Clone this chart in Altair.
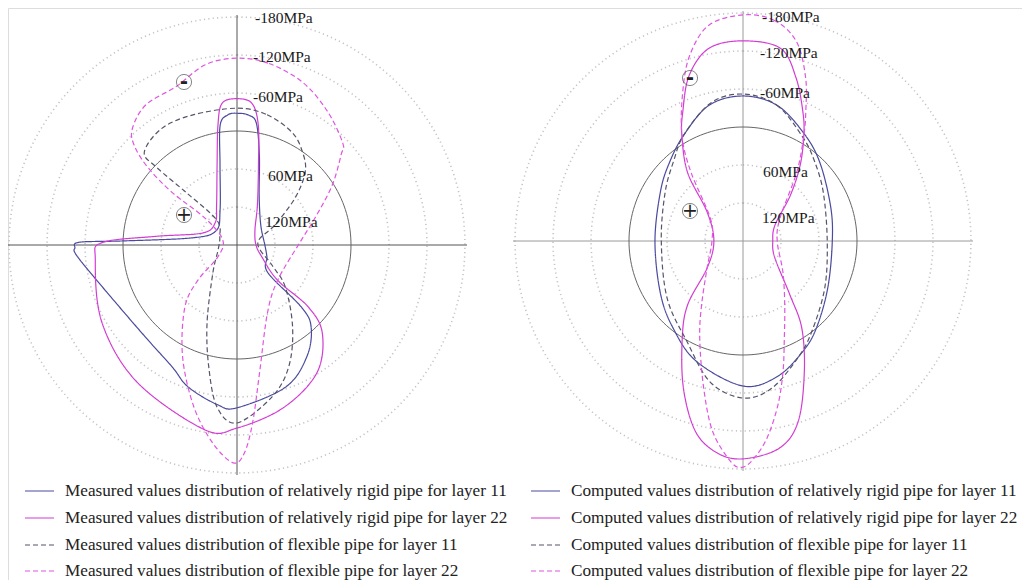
import math
import altair as alt
import pandas as pd

# ---------------- data (angle in degrees clockwise from top, stress in MPa) ----------------
# Left panel: measured values
MEAS_RIGID_11_ANG = [0, 5, 9, 14, 24, 50, 90, 112, 132, 134, 138, 148, 161, 180, 187, 199, 208, 225, 251, 266, 269, 271, 272, 279, 304, 334, 348, 352, 356]
MEAS_RIGID_11_MPA = [-28, -26, -15, 34, 94, 131, 136, 129, 114, 38, 5, -28, -57, -77, -74, -57, -38, -25, -40, -73, -76, -69, -2, 108, 140, 119, 51, -11, -26]

MEAS_RIGID_22_ANG = [0, 6, 10, 15, 27, 50, 90, 116, 131, 131, 136, 148, 164, 180, 190, 216, 240, 264, 271, 276, 289, 315, 333, 346, 351, 354]
MEAS_RIGID_22_MPA = [-51, -45, -13, 49, 109, 143, 150, 136, 95, 31, -14, -58, -87, -109, -116, -88, -66, -45, -33, 50, 122, 131, 109, 50, -12, -45]

MEAS_FLEX_11_ANG = [0, 13, 26, 35, 43, 51, 62, 85, 120, 131, 146, 157, 167, 180, 187, 193, 201, 221, 255, 295, 321, 316, 314, 315, 327, 341]
MEAS_FLEX_11_MPA = [-36, -31, -18, 0, 22, 62, 112, 147, 116, 79, 23, -29, -66, -101, -78, -18, 48, 122, 149, 150, 129, 66, 4, -27, -39, -37]

MEAS_FLEX_22_ANG = [0, 10, 22, 34, 46, 49, 58, 71, 88, 131, 156, 170, 175, 178, 181, 187, 195, 206, 220, 228, 238, 290, 310, 309, 311, 314, 318, 327, 339, 350]
MEAS_FLEX_22_MPA = [-115, -111, -97, -75, -52, -38, 3, 50, 81, 95, 62, -25, -102, -149, -164, -135, -84, -16, 52, 97, 144, 156, 114, 48, -6, -45, -67, -84, -88, -109]

# Right panel: computed values
COMP_RIGID_11_ANG = [0, 14, 29, 44, 68, 90, 119, 140, 152, 166, 180, 201, 219, 238, 270, 301, 317, 331, 346]
COMP_RIGID_11_MPA = [-49, -41, -16, 6, 31, 39, 27, 0, -19, -41, -49, -24, 4, 26, 41, 28, 10, -12, -41]

COMP_RIGID_22_ANG = [0, 11, 18, 25, 30, 37, 46, 63, 90, 118, 139, 146, 155, 163, 170, 180, 187, 194, 202, 212, 221, 233, 270, 309, 321, 330, 335, 342, 350]
COMP_RIGID_22_MPA = [-136, -130, -91, -44, -12, 30, 76, 123, 133, 123, 67, 14, -49, -118, -152, -164, -157, -130, -71, -1, 47, 109, 134, 107, 41, -13, -45, -95, -129]

COMP_FLEX_11_ANG = [0, 14, 30, 42, 59, 90, 120, 143, 155, 169, 180, 193, 209, 233, 270, 302, 319, 331, 347]
COMP_FLEX_11_MPA = [-52, -41, -9, 11, 32, 47, 31, 0, -24, -57, -68, -49, -2, 30, 51, 35, 13, -12, -44]

COMP_FLEX_22_ANG = [0, 8, 15, 21, 26, 30, 38, 58, 90, 128, 147, 157, 163, 168, 173, 177, 180, 183, 189, 195, 204, 213, 233, 270, 305, 323, 330, 338, 344, 351]
COMP_FLEX_22_MPA = [-177, -172, -146, -96, -46, -12, 42, 111, 126, 100, 59, 13, -36, -85, -133, -163, -177, -170, -125, -60, 12, 60, 109, 131, 117, 43, -13, -74, -125, -165]

RING_MPA = [120, 60, -60, -120, -180]
ZERO_MPA = [0]
RING_LABELS = ["-180MPa", "-120MPa", "-60MPa", "60MPa", "120MPa"]
RING_LABEL_MPA = [-180, -120, -60, 60, 120]

SERIES_11_RIGID = "relatively rigid pipe for layer 11"
SERIES_22_RIGID = "relatively rigid pipe for layer 22"
SERIES_11_FLEX = "flexible pipe for layer 11"
SERIES_22_FLEX = "flexible pipe for layer 22"
SERIES = [SERIES_11_RIGID, SERIES_22_RIGID, SERIES_11_FLEX, SERIES_22_FLEX]
LEGEND_PREFIX = ["Measured values distribution of ", "Computed values distribution of "]

# ---------------- layout / style ----------------
R0 = 114.0            # radius of the zero-stress circle (px)
K = 38.0 / 60.0       # px per MPa (compression drawn outward)
AXIS_HALF = 230.0
CENTERS = {"left": (237.0, 245.0), "right": (743.0, 241.0)}
LABEL_DX = {"left": [18, 16, 16, 31, 28], "right": [19, 17, 17, 20, 19]}
LABEL_SHIFT = {"left": [1, 2, 4, 7, 15], "right": [4, 2, 4, 7, 15]}
COLORS = {SERIES_11_RIGID: "#4a4a9e", SERIES_22_RIGID: "#d23cd2",
          SERIES_11_FLEX: "#55556a", SERIES_22_FLEX: "#e055e0"}
DASHES = {SERIES_11_RIGID: [1, 0], SERIES_22_RIGID: [1, 0],
          SERIES_11_FLEX: [5, 3], SERIES_22_FLEX: [5, 3]}
FONT = "Liberation Serif"

XS = alt.Scale(domain=[8, 1022], nice=False, zero=False)
YS = alt.Scale(domain=[580, 8], nice=False, zero=False)


def polar(panel, ang, mpa):
    cx, cy = CENTERS[panel]
    r = R0 - mpa * K
    a = math.radians(ang)
    return cx + r * math.sin(a), cy - r * math.cos(a)


curves = [
    ("left", SERIES_11_RIGID, MEAS_RIGID_11_ANG, MEAS_RIGID_11_MPA),
    ("left", SERIES_22_RIGID, MEAS_RIGID_22_ANG, MEAS_RIGID_22_MPA),
    ("left", SERIES_11_FLEX, MEAS_FLEX_11_ANG, MEAS_FLEX_11_MPA),
    ("left", SERIES_22_FLEX, MEAS_FLEX_22_ANG, MEAS_FLEX_22_MPA),
    ("right", SERIES_11_RIGID, COMP_RIGID_11_ANG, COMP_RIGID_11_MPA),
    ("right", SERIES_22_RIGID, COMP_RIGID_22_ANG, COMP_RIGID_22_MPA),
    ("right", SERIES_11_FLEX, COMP_FLEX_11_ANG, COMP_FLEX_11_MPA),
    ("right", SERIES_22_FLEX, COMP_FLEX_22_ANG, COMP_FLEX_22_MPA),
]

layers = []

# dotted grid rings
ring_rows = []
for panel in CENTERS:
    for s in RING_MPA:
        for i in range(120):
            x, y = polar(panel, i * 3, s)
            ring_rows.append({"key": f"{panel}{s}", "i": i, "x": x, "y": y})
layers.append(
    alt.Chart(pd.DataFrame(ring_rows)).mark_line(
        interpolate="linear-closed", color="#c4c4c8", strokeWidth=1.6, strokeDash=[1.2, 3.2]
    ).encode(x=alt.X("x:Q", scale=XS, axis=None), y=alt.Y("y:Q", scale=YS, axis=None),
             detail="key:N", order="i:Q")
)

# axes lines
ax_rows = []
for panel, (cx, cy) in CENTERS.items():
    ax_rows.append({"panel": panel, "x": cx - AXIS_HALF, "x2": cx + AXIS_HALF, "y": cy, "y2": cy})
    ax_rows.append({"panel": panel, "x": cx, "x2": cx, "y": cy - AXIS_HALF, "y2": cy + AXIS_HALF})
layers.append(
    alt.Chart(pd.DataFrame(ax_rows)).mark_rule(strokeWidth=1).encode(
        x=alt.X("x:Q", scale=XS, axis=None), x2="x2:Q",
        y=alt.Y("y:Q", scale=YS, axis=None), y2="y2:Q",
        color=alt.Color("panel:N", scale=alt.Scale(domain=["left", "right"], range=["#555555", "#9a9a9a"]), legend=None),
    )
)

# zero circle
zero_rows = []
for panel in CENTERS:
    for s in ZERO_MPA:
        for i in range(180):
            x, y = polar(panel, i * 2, s)
            zero_rows.append({"key": panel, "i": i, "x": x, "y": y})
layers.append(
    alt.Chart(pd.DataFrame(zero_rows)).mark_line(
        interpolate="linear-closed", color="#666666", strokeWidth=1
    ).encode(x=alt.X("x:Q", scale=XS, axis=None), y=alt.Y("y:Q", scale=YS, axis=None),
             detail="key:N", order="i:Q")
)

# stress distribution curves
for panel, series, angs, vals in curves:
    rows = []
    for i, (a, s) in enumerate(zip(angs, vals)):
        x, y = polar(panel, a, s)
        rows.append({"i": i, "x": x, "y": y, "angle": a, "MPa": s})
    layers.append(
        alt.Chart(pd.DataFrame(rows)).mark_line(
            interpolate="cardinal-closed", color=COLORS[series], strokeWidth=1.2,
            strokeDash=DASHES[series]
        ).encode(x=alt.X("x:Q", scale=XS, axis=None), y=alt.Y("y:Q", scale=YS, axis=None),
                 order="i:Q")
    )

# ring labels
lab_rows = []
for panel, (cx, cy) in CENTERS.items():
    for j, (txt, s) in enumerate(zip(RING_LABELS, RING_LABEL_MPA)):
        r = R0 - s * K - LABEL_SHIFT[panel][j]
        lab_rows.append({"x": cx + LABEL_DX[panel][j], "y": cy - r, "t": txt})
layers.append(
    alt.Chart(pd.DataFrame(lab_rows)).mark_text(
        align="left", baseline="middle", font=FONT, fontSize=15.5, color="#1a1a1a"
    ).encode(x=alt.X("x:Q", scale=XS, axis=None), y=alt.Y("y:Q", scale=YS, axis=None), text="t:N")
)

# sign markers (compression / tension)
sign_rows = []
for panel, (cx, cy) in CENTERS.items():
    sign_rows.append({"x": cx - 53, "y": cy - 163, "t": "-"})
    sign_rows.append({"x": cx - 53, "y": cy - 30, "t": "+"})
sign_df = pd.DataFrame(sign_rows)
layers.append(
    alt.Chart(sign_df).mark_point(shape="circle", size=230, filled=False, color="#555555", strokeWidth=1).encode(
        x=alt.X("x:Q", scale=XS, axis=None), y=alt.Y("y:Q", scale=YS, axis=None))
)
layers.append(
    alt.Chart(sign_df[sign_df.t == "+"]).mark_text(font="DejaVu Sans", fontSize=19, color="#222222", baseline="middle").encode(
        x=alt.X("x:Q", scale=XS, axis=None), y=alt.Y("y:Q", scale=YS, axis=None), text="t:N")
)
layers.append(
    alt.Chart(sign_df[sign_df.t == "-"]).mark_text(font="DejaVu Sans", fontSize=20, fontWeight="bold", color="#222222", baseline="middle").encode(
        x=alt.X("x:Q", scale=XS, axis=None), y=alt.Y("y:Q", scale=YS, axis=None), text="t:N")
)

# legend (two columns, offset like the panels)
LEG_LINE_X = [25, 531]
LEG_LINE_LEN = 29
LEG_TEXT_GAP = 11
LEG_Y = [491, 518, 545, 571]
leg_line_rows, leg_text_rows = [], []
for c, prefix in enumerate(LEGEND_PREFIX):
    for k, series in enumerate(SERIES):
        y = LEG_Y[k]
        leg_text_rows.append({"x": LEG_LINE_X[c] + LEG_LINE_LEN + LEG_TEXT_GAP, "y": y, "t": prefix + series})
        leg_line_rows.append({"series": series, "x": LEG_LINE_X[c], "x2": LEG_LINE_X[c] + LEG_LINE_LEN, "y": y})
leg_lines = pd.DataFrame(leg_line_rows)
for series in SERIES:
    layers.append(
        alt.Chart(leg_lines[leg_lines.series == series]).mark_rule(
            color=COLORS[series], strokeWidth=1.2, strokeDash=DASHES[series]
        ).encode(x=alt.X("x:Q", scale=XS, axis=None), x2="x2:Q", y=alt.Y("y:Q", scale=YS, axis=None))
    )
layers.append(
    alt.Chart(pd.DataFrame(leg_text_rows)).mark_text(
        align="left", baseline="middle", font=FONT, fontSize=17.2, color="#222222"
    ).encode(x=alt.X("x:Q", scale=XS, axis=None), y=alt.Y("y:Q", scale=YS, axis=None), text="t:N")
)

chart = alt.layer(*layers).properties(
    width=1014, height=572, padding=0,
    autosize=alt.AutoSizeParams(type="none"),
).configure_view(stroke=None).configure(background="white")

chart.save("out.html", embed_options={"renderer": "svg", "actions": False})
